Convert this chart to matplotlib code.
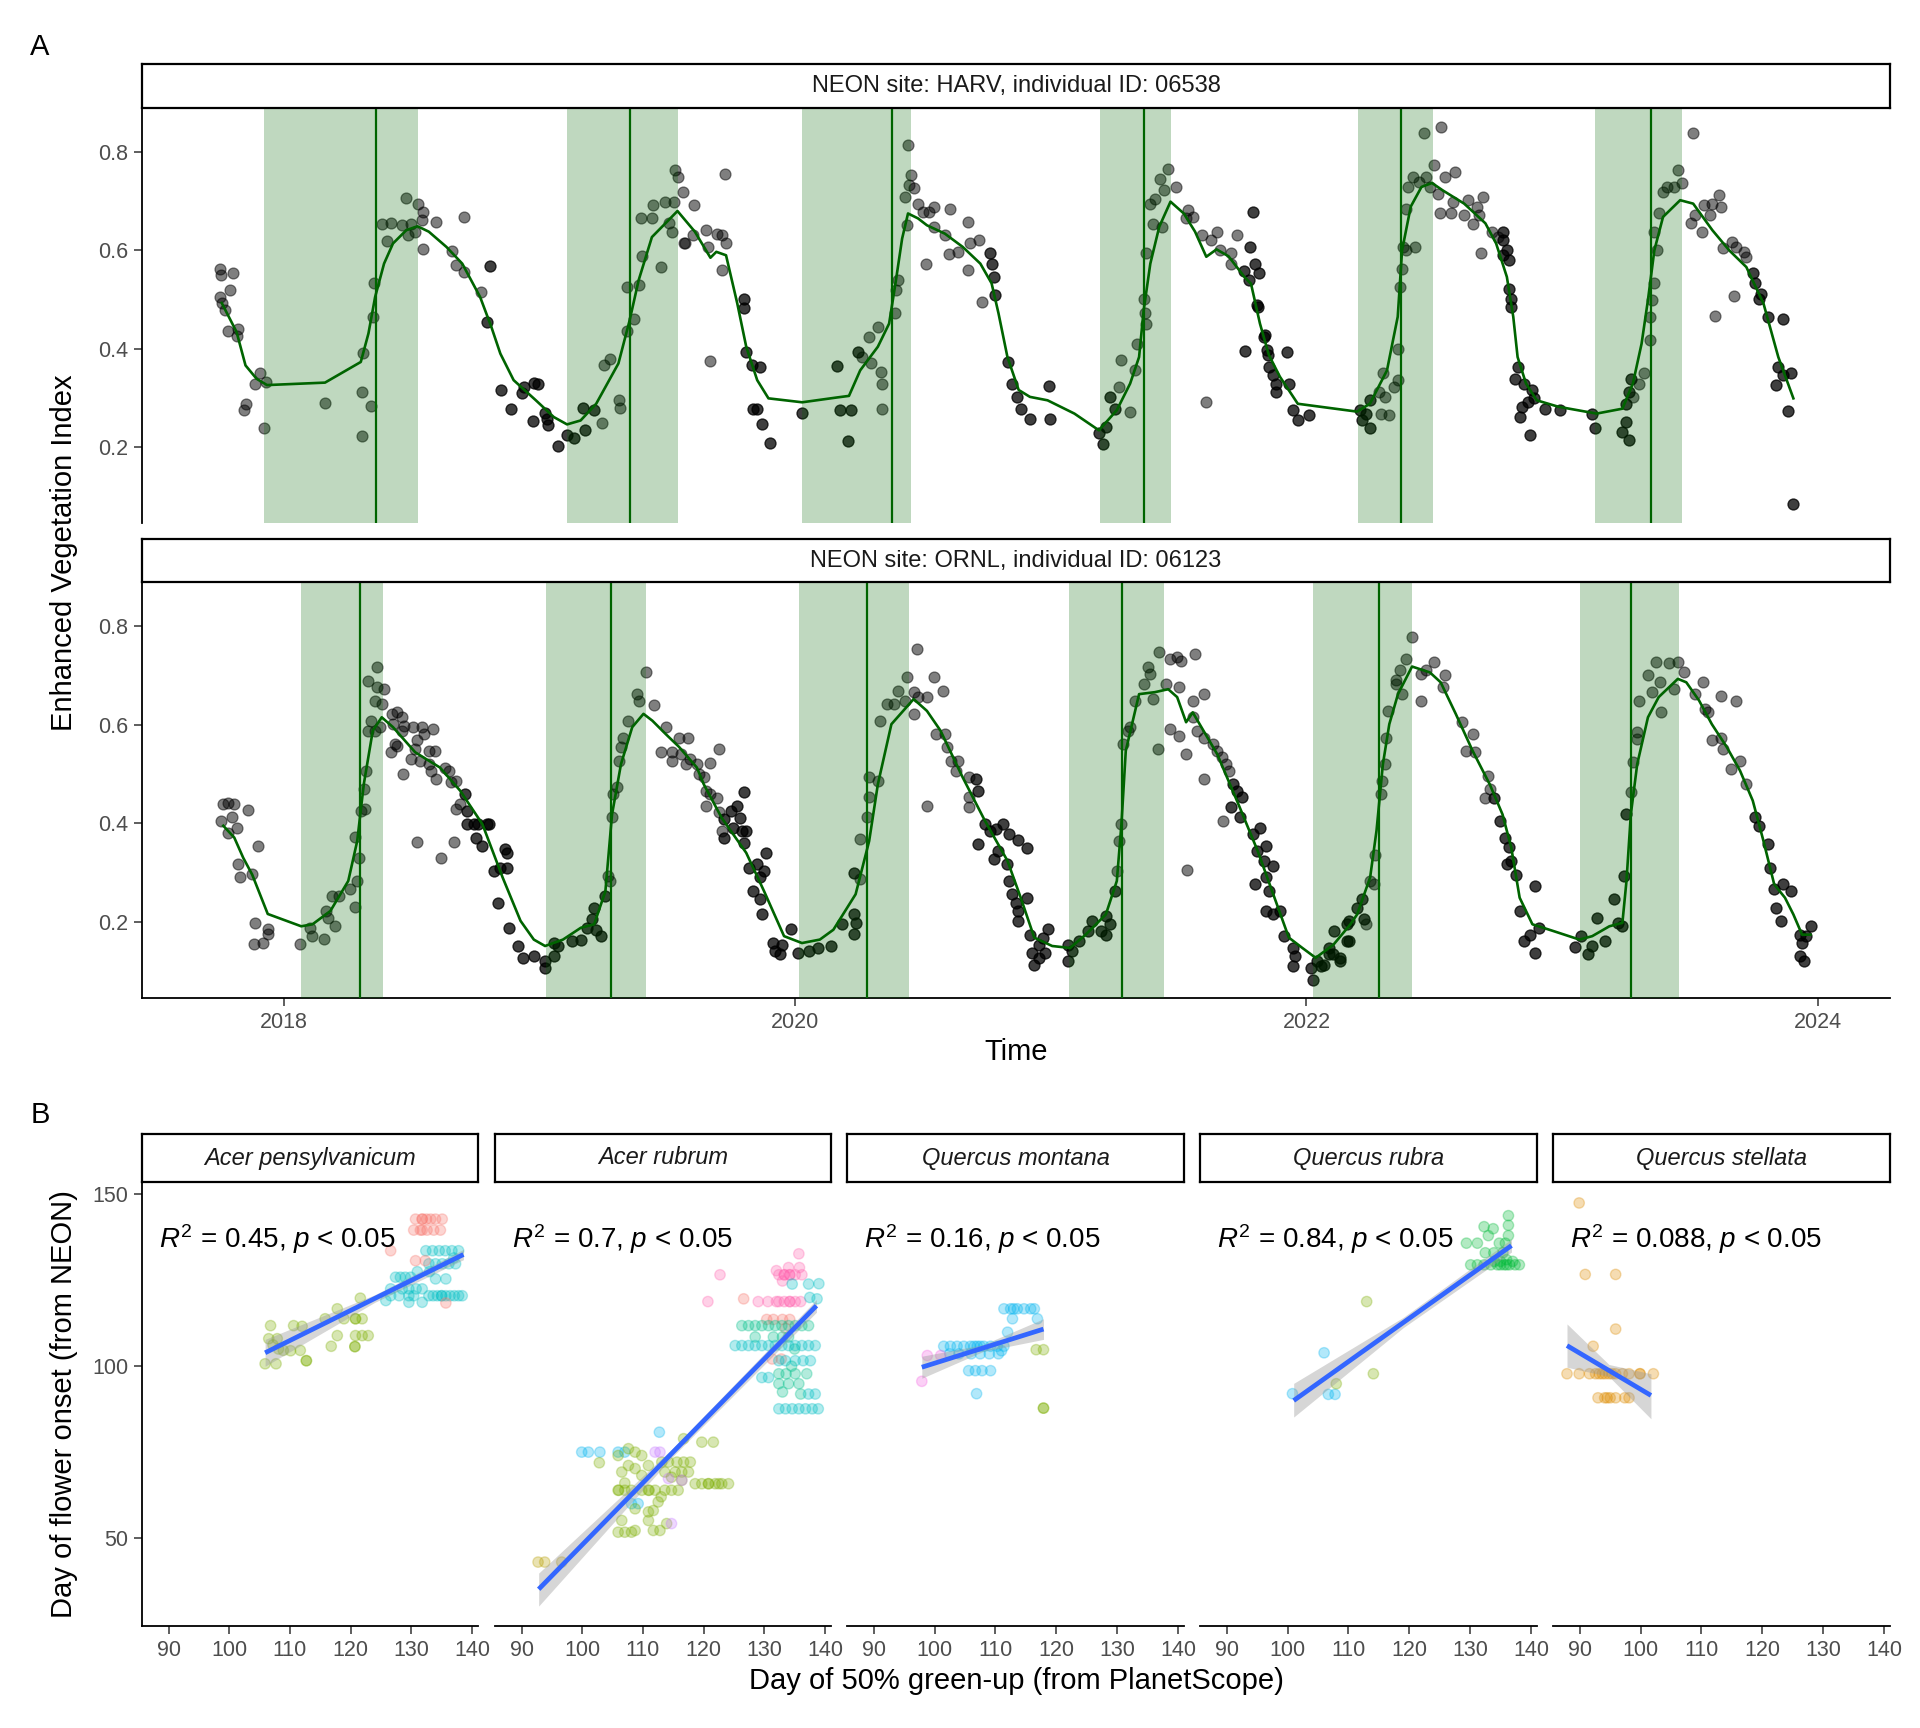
import numpy as np
import matplotlib.pyplot as plt

plt.rcParams['font.family'] = ['Liberation Sans', 'DejaVu Sans']
plt.rcParams['mathtext.fontset'] = 'custom'
plt.rcParams['mathtext.rm'] = 'Liberation Sans'
plt.rcParams['mathtext.it'] = 'Liberation Sans:italic'

W, H = 1920, 1728

# ---------------- Panel A data (decimal year, EVI) ----------------
harv_points = np.array([
    (2017.749, .563), (2017.752, .550), (2017.800, .554), (2017.789, .519), (2017.749, .506), (2017.756, .492),
    (2017.770, .478), (2017.819, .441), (2017.779, .436), (2017.817, .425), (2017.907, .350), (2017.888, .329),
    (2017.930, .333), (2017.852, .287), (2017.845, .276), (2017.922, .239), (2018.160, .290), (2018.307, .392),
    (2018.304, .311), (2018.339, .284), (2018.304, .223), (2018.351, .533), (2018.347, .465), (2018.382, .653),
    (2018.417, .656), (2018.461, .651), (2018.496, .654), (2018.403, .618), (2018.478, .707), (2018.522, .694),
    (2018.545, .677), (2018.539, .661), (2018.545, .602), (2018.484, .631), (2018.513, .638), (2018.595, .657),
    (2018.702, .667), (2018.656, .599), (2018.674, .571), (2018.705, .555), (2018.805, .569), (2018.770, .516),
    (2018.793, .455), (2018.849, .316), (2018.889, .278), (2018.929, .310), (2018.938, .322), (2018.977, .331),
    (2018.994, .329), (2018.973, .253), (2019.020, .269), (2019.029, .258), (2019.032, .244), (2019.072, .202),
    (2019.107, .224), (2019.134, .219), (2019.177, .234), (2019.169, .280), (2019.212, .275), (2019.244, .248),
    (2019.251, .366), (2019.274, .380), (2019.309, .296), (2019.314, .280), (2019.341, .526), (2019.387, .529),
    (2019.369, .461), (2019.343, .436), (2019.399, .589), (2019.474, .567), (2019.395, .665), (2019.438, .665),
    (2019.491, .699), (2019.526, .699), (2019.442, .692), (2019.528, .763), (2019.542, .749), (2019.559, .718),
    (2019.507, .655), (2019.516, .638), (2019.565, .614), (2019.600, .631), (2019.602, .692), (2019.568, .614),
    (2019.651, .641), (2019.694, .634), (2019.712, .631), (2019.729, .614), (2019.726, .755), (2019.659, .607),
    (2019.715, .560), (2019.799, .502), (2019.799, .482), (2019.808, .394), (2019.830, .367), (2019.860, .363),
    (2019.668, .375), (2019.834, .278), (2019.851, .278), (2019.869, .247), (2019.900, .209), (2020.026, .270),
    (2020.163, .364), (2020.175, .276), (2020.219, .275), (2020.207, .213), (2020.245, .394), (2020.262, .383),
    (2020.288, .424), (2020.323, .444), (2020.297, .370), (2020.337, .353), (2020.341, .329), (2020.341, .278),
    (2020.390, .472), (2020.393, .519), (2020.402, .539), (2020.437, .651), (2020.428, .709), (2020.446, .733),
    (2020.454, .753), (2020.442, .814), (2020.463, .726), (2020.480, .695), (2020.498, .678), (2020.524, .678),
    (2020.542, .688), (2020.607, .685), (2020.677, .657), (2020.510, .573), (2020.542, .648), (2020.586, .631),
    (2020.603, .592), (2020.638, .597), (2020.682, .614), (2020.717, .621), (2020.761, .594), (2020.769, .573),
    (2020.778, .546), (2020.781, .509), (2020.677, .560), (2020.730, .494), (2020.831, .373), (2020.848, .329),
    (2020.866, .302), (2020.883, .278), (2020.918, .258), (2020.993, .324), (2020.997, .258), (2021.188, .228),
    (2021.205, .207), (2021.214, .241), (2021.232, .302), (2021.249, .278), (2021.276, .377), (2021.267, .323),
    (2021.311, .271), (2021.328, .356), (2021.337, .410), (2021.363, .502), (2021.372, .594), (2021.368, .472),
    (2021.372, .451), (2021.389, .695), (2021.406, .705), (2021.428, .746), (2021.442, .722), (2021.459, .766),
    (2021.398, .654), (2021.433, .648), (2021.491, .729), (2021.538, .682), (2021.555, .668), (2021.529, .665),
    (2021.590, .631), (2021.625, .621), (2021.651, .638), (2021.660, .600), (2021.704, .594), (2021.730, .631),
    (2021.704, .573), (2021.756, .559), (2021.774, .539), (2021.791, .677), (2021.608, .292), (2021.761, .395),
    (2021.809, .485), (2021.835, .424), (2021.844, .397), (2021.853, .363), (2021.870, .346), (2021.879, .329),
    (2021.923, .394), (2021.931, .329), (2021.879, .312), (2021.949, .275), (2021.966, .255), (2022.010, .265),
    (2021.780, .607), (2021.797, .573), (2021.814, .553), (2021.805, .489), (2021.839, .428), (2021.848, .387),
    (2022.208, .275), (2022.216, .255), (2022.250, .238), (2022.233, .268), (2022.291, .268), (2022.324, .265),
    (2022.250, .295), (2022.283, .312), (2022.308, .302), (2022.341, .322), (2022.358, .336), (2022.299, .350),
    (2022.358, .400), (2022.366, .526), (2022.374, .563), (2022.379, .607), (2022.424, .607), (2022.391, .600),
    (2022.391, .685), (2022.399, .729), (2022.416, .749), (2022.466, .749), (2022.441, .739), (2022.500, .773),
    (2022.458, .838), (2022.528, .851), (2022.483, .729), (2022.516, .715), (2022.541, .749), (2022.582, .760),
    (2022.524, .675), (2022.566, .675), (2022.616, .671), (2022.575, .699), (2022.633, .702), (2022.666, .688),
    (2022.691, .709), (2022.674, .671), (2022.650, .654), (2022.683, .595), (2022.725, .638), (2022.750, .627),
    (2022.767, .638), (2022.767, .621), (2022.784, .600), (2022.767, .590), (2022.792, .580), (2022.792, .522),
    (2022.800, .502), (2022.800, .485), (2022.826, .363), (2022.817, .339), (2022.851, .329), (2022.884, .316),
    (2022.892, .299), (2022.842, .282), (2022.867, .292), (2022.834, .261), (2022.876, .224), (2022.934, .278),
    (2022.993, .275), (2023.118, .268), (2023.127, .238), (2023.236, .231), (2023.252, .251), (2023.261, .214),
    (2023.261, .312), (2023.302, .329), (2023.269, .339), (2023.319, .350), (2023.277, .302), (2023.252, .288),
    (2023.345, .417), (2023.345, .465), (2023.353, .499), (2023.361, .533), (2023.370, .600), (2023.361, .638),
    (2023.378, .675), (2023.395, .719), (2023.412, .729), (2023.437, .729), (2023.454, .763), (2023.471, .736),
    (2023.513, .839), (2023.504, .655), (2023.521, .672), (2023.546, .638), (2023.554, .692), (2023.579, .672),
    (2023.588, .695), (2023.613, .712), (2023.621, .688), (2023.630, .604), (2023.663, .617), (2023.680, .607),
    (2023.713, .597), (2023.721, .587), (2023.672, .507), (2023.600, .467), (2023.746, .553), (2023.754, .533),
    (2023.771, .502), (2023.779, .512), (2023.804, .465), (2023.863, .461), (2023.846, .363), (2023.838, .326),
    (2023.896, .350), (2023.863, .346), (2023.884, .274), (2023.904, .085),
])

harv_fit = np.array([
    (2017.756, .493), (2017.814, .434), (2017.849, .366), (2017.892, .339), (2017.933, .326), (2018.160, .331),
    (2018.300, .373), (2018.330, .431), (2018.356, .505), (2018.391, .573), (2018.426, .614), (2018.478, .641),
    (2018.522, .649), (2018.566, .638), (2018.635, .607), (2018.697, .573), (2018.767, .505), (2018.811, .444),
    (2018.846, .390), (2018.898, .336), (2018.985, .295), (2019.055, .261), (2019.107, .246), (2019.160, .254),
    (2019.221, .288), (2019.308, .370), (2019.352, .458), (2019.387, .539), (2019.439, .627), (2019.492, .655),
    (2019.539, .680), (2019.607, .638), (2019.668, .585), (2019.691, .597), (2019.729, .590), (2019.773, .492),
    (2019.808, .404), (2019.851, .336), (2019.895, .299), (2020.027, .291), (2020.166, .301), (2020.210, .304),
    (2020.254, .356), (2020.323, .404), (2020.367, .451), (2020.392, .533), (2020.418, .624), (2020.441, .675),
    (2020.480, .665), (2020.515, .651), (2020.585, .634), (2020.655, .607), (2020.724, .573), (2020.768, .533),
    (2020.795, .472), (2020.830, .383), (2020.874, .316), (2020.918, .302), (2020.987, .295), (2021.092, .268),
    (2021.188, .234), (2021.258, .275), (2021.310, .329), (2021.345, .383), (2021.363, .478), (2021.389, .573),
    (2021.424, .648), (2021.468, .699), (2021.520, .675), (2021.564, .638), (2021.608, .587), (2021.648, .602),
    (2021.695, .588), (2021.757, .546), (2021.783, .532), (2021.818, .451), (2021.853, .387), (2021.896, .343),
    (2021.966, .288), (2022.198, .272), (2022.248, .288), (2022.315, .356), (2022.357, .465), (2022.374, .600),
    (2022.408, .689), (2022.450, .729), (2022.491, .737), (2022.533, .722), (2022.617, .695), (2022.700, .655),
    (2022.742, .614), (2022.784, .546), (2022.809, .465), (2022.826, .383), (2022.859, .329), (2022.901, .295),
    (2022.985, .282), (2023.135, .268), (2023.236, .278), (2023.277, .329), (2023.311, .410), (2023.336, .499),
    (2023.361, .600), (2023.395, .668), (2023.462, .702), (2023.513, .695), (2023.588, .641), (2023.654, .600),
    (2023.721, .566), (2023.788, .492), (2023.846, .383), (2023.905, .299),
])

harv_season_start = [2017.921, 2019.107, 2020.026, 2021.193, 2022.203, 2023.130]
harv_season_end = [2018.522, 2019.540, 2020.454, 2021.468, 2022.496, 2023.470]
harv_onset = [2018.361, 2019.352, 2020.379, 2021.363, 2022.369, 2023.347]
# periods where two yearly windows overlap (points appear twice)
harv_overlap = [(2018.78, 2019.22), (2019.76, 2020.25), (2020.76, 2021.25),
                (2021.74, 2022.25), (2022.76, 2023.27), (2023.74, 2023.95)]

ornl_points = np.array([
    (2017.762, .439), (2017.779, .442), (2017.805, .439), (2017.796, .412), (2017.753, .405), (2017.779, .381),
    (2017.814, .391), (2017.858, .427), (2017.898, .353), (2017.819, .317), (2017.828, .290), (2017.875, .297),
    (2017.887, .198), (2017.884, .155), (2017.919, .157), (2017.936, .185), (2017.936, .175), (2018.064, .156),
    (2018.102, .188), (2018.155, .166), (2018.111, .171), (2018.163, .222), (2018.172, .208), (2018.189, .252),
    (2018.198, .191), (2018.216, .252), (2018.256, .266), (2018.277, .230), (2018.277, .372), (2018.294, .329),
    (2018.286, .283), (2018.300, .425), (2018.318, .429), (2018.321, .507), (2018.312, .470), (2018.330, .588),
    (2018.339, .608), (2018.356, .588), (2018.374, .595), (2018.330, .689), (2018.362, .718), (2018.365, .676),
    (2018.391, .673), (2018.356, .649), (2018.382, .642), (2018.422, .622), (2018.426, .601), (2018.443, .625),
    (2018.461, .615), (2018.470, .598), (2018.461, .588), (2018.435, .561), (2018.417, .544), (2018.443, .557),
    (2018.465, .500), (2018.504, .595), (2018.539, .595), (2018.583, .591), (2018.521, .568), (2018.547, .581),
    (2018.565, .547), (2018.591, .547), (2018.513, .551), (2018.497, .530), (2018.531, .527), (2018.566, .520),
    (2018.575, .506), (2018.593, .490), (2018.628, .513), (2018.645, .506), (2018.654, .483), (2018.671, .486),
    (2018.518, .363), (2018.613, .330), (2018.665, .361), (2018.706, .459), (2018.689, .439), (2018.715, .425),
    (2018.671, .428), (2018.715, .398), (2018.741, .398), (2018.759, .398), (2018.794, .398), (2018.802, .398),
    (2018.750, .371), (2018.776, .354), (2018.820, .303), (2018.846, .310), (2018.872, .310), (2018.864, .347),
    (2018.872, .340), (2018.837, .239), (2018.881, .188), (2018.916, .151), (2018.934, .127), (2018.977, .130),
    (2019.021, .120), (2019.021, .106), (2019.056, .130), (2019.056, .157), (2019.073, .151), (2019.126, .161),
    (2019.161, .164), (2019.213, .228), (2019.205, .205), (2019.187, .188), (2019.240, .171), (2019.222, .184),
    (2019.257, .252), (2019.274, .283), (2019.269, .293), (2019.283, .412), (2019.287, .459), (2019.301, .473),
    (2019.309, .527), (2019.318, .554), (2019.327, .574), (2019.344, .608), (2019.379, .662), (2019.388, .649),
    (2019.414, .706), (2019.449, .639), (2019.493, .595), (2019.545, .574), (2019.580, .574), (2019.476, .544),
    (2019.519, .544), (2019.519, .527), (2019.554, .540), (2019.571, .520), (2019.589, .530), (2019.616, .520),
    (2019.668, .523), (2019.625, .500), (2019.642, .493), (2019.703, .550), (2019.651, .466), (2019.668, .459),
    (2019.694, .452), (2019.651, .435), (2019.703, .422), (2019.720, .408), (2019.712, .384), (2019.720, .371),
    (2019.747, .425), (2019.773, .435), (2019.782, .411), (2019.799, .463), (2019.755, .391), (2019.790, .384),
    (2019.799, .360), (2019.808, .384), (2019.887, .340), (2019.817, .310), (2019.852, .317), (2019.878, .303),
    (2019.861, .290), (2019.834, .262), (2019.861, .246), (2019.869, .215), (2019.913, .158), (2019.948, .154),
    (2019.922, .141), (2019.939, .134), (2019.983, .185), (2020.009, .137), (2020.053, .141), (2020.088, .147),
    (2020.140, .151), (2020.184, .195), (2020.228, .215), (2020.236, .198), (2020.228, .175), (2020.228, .300),
    (2020.254, .286), (2020.254, .368), (2020.280, .412), (2020.289, .453), (2020.323, .486), (2020.289, .493),
    (2020.332, .608), (2020.358, .642), (2020.385, .642), (2020.402, .669), (2020.428, .649), (2020.437, .696),
    (2020.463, .666), (2020.477, .754), (2020.480, .656), (2020.463, .622), (2020.515, .656), (2020.542, .696),
    (2020.577, .669), (2020.515, .435), (2020.549, .581), (2020.584, .581), (2020.593, .554), (2020.610, .527),
    (2020.637, .527), (2020.628, .507), (2020.681, .493), (2020.707, .490), (2020.681, .453), (2020.716, .466),
    (2020.681, .432), (2020.716, .357), (2020.742, .398), (2020.760, .384), (2020.786, .388), (2020.812, .398),
    (2020.838, .378), (2020.873, .367), (2020.908, .350), (2020.778, .327), (2020.795, .344), (2020.830, .317),
    (2020.838, .283), (2020.847, .256), (2020.865, .239), (2020.873, .222), (2020.908, .249), (2020.873, .202),
    (2020.917, .174), (2020.926, .137), (2020.935, .113), (2020.952, .154), (2020.970, .168), (2020.987, .185),
    (2020.978, .137), (2020.952, .127), (2021.066, .154), (2021.083, .141), (2021.066, .120), (2021.109, .161),
    (2021.144, .181), (2021.162, .202), (2021.197, .181), (2021.214, .212), (2021.232, .195), (2021.214, .174),
    (2021.249, .263), (2021.258, .303), (2021.267, .364), (2021.275, .398), (2021.284, .561), (2021.302, .588),
    (2021.310, .595), (2021.328, .649), (2021.363, .683), (2021.380, .717), (2021.389, .703), (2021.398, .652),
    (2021.424, .747), (2021.420, .550), (2021.450, .683), (2021.467, .734), (2021.494, .737), (2021.511, .730),
    (2021.503, .676), (2021.564, .744), (2021.555, .649), (2021.599, .662), (2021.467, .591), (2021.503, .578),
    (2021.529, .540), (2021.599, .489), (2021.555, .615), (2021.573, .588), (2021.599, .574), (2021.634, .561),
    (2021.651, .547), (2021.669, .534), (2021.686, .520), (2021.695, .507), (2021.712, .480), (2021.730, .466),
    (2021.747, .453), (2021.704, .432), (2021.739, .412), (2021.674, .405), (2021.791, .378), (2021.817, .391),
    (2021.843, .354), (2021.808, .344), (2021.834, .324), (2021.869, .313), (2021.843, .290), (2021.799, .276),
    (2021.852, .262), (2021.843, .222), (2021.869, .215), (2021.895, .222), (2021.912, .171), (2021.947, .147),
    (2021.947, .110), (2021.532, .306), (2022.017, .107), (2022.026, .083), (2022.043, .120), (2022.069, .113),
    (2022.104, .134), (2022.130, .120), (2022.087, .147), (2022.157, .161), (2022.166, .202), (2021.956, .130),
    (2022.057, .110), (2022.090, .134), (2022.107, .181), (2022.132, .127), (2022.157, .195), (2022.165, .161),
    (2022.199, .229), (2022.216, .246), (2022.224, .205), (2022.232, .195), (2022.249, .283), (2022.266, .276),
    (2022.269, .336), (2022.291, .459), (2022.296, .486), (2022.307, .520), (2022.312, .574), (2022.319, .628),
    (2022.349, .683), (2022.366, .710), (2022.391, .734), (2022.413, .778), (2022.349, .690), (2022.374, .663),
    (2022.449, .703), (2022.466, .710), (2022.500, .727), (2022.542, .700), (2022.449, .649), (2022.533, .676),
    (2022.608, .605), (2022.650, .581), (2022.625, .547), (2022.658, .544), (2022.709, .496), (2022.717, .469),
    (2022.700, .452), (2022.734, .452), (2022.759, .405), (2022.776, .371), (2022.792, .351), (2022.801, .324),
    (2022.818, .296), (2022.784, .317), (2022.834, .222), (2022.851, .161), (2022.876, .174), (2022.893, .137),
    (2022.893, .273), (2022.910, .188), (2023.051, .148), (2023.101, .134), (2023.118, .151), (2023.076, .171),
    (2023.135, .208), (2023.168, .161), (2023.202, .246), (2023.219, .198), (2023.236, .191), (2023.244, .293),
    (2023.249, .418), (2023.269, .463), (2023.277, .524), (2023.294, .571), (2023.294, .585), (2023.302, .649),
    (2023.336, .700), (2023.353, .666), (2023.383, .686), (2023.386, .625), (2023.369, .727), (2023.419, .725),
    (2023.453, .727), (2023.478, .707), (2023.436, .673), (2023.519, .663), (2023.553, .686), (2023.561, .632),
    (2023.570, .625), (2023.620, .659), (2023.679, .649), (2023.587, .568), (2023.620, .574), (2023.628, .551),
    (2023.662, .510), (2023.696, .527), (2023.721, .480), (2023.754, .412), (2023.771, .395), (2023.805, .358),
    (2023.813, .310), (2023.830, .266), (2023.838, .229), (2023.855, .202), (2023.863, .276), (2023.897, .262),
    (2023.930, .174), (2023.939, .157), (2023.955, .171), (2023.975, .191), (2023.930, .130), (2023.947, .120),
])

ornl_fit = np.array([
    (2017.762, .395), (2017.805, .371), (2017.840, .330), (2017.875, .296), (2017.936, .216), (2018.067, .191),
    (2018.111, .195), (2018.181, .222), (2018.251, .283), (2018.286, .364), (2018.312, .480), (2018.347, .588),
    (2018.382, .615), (2018.426, .595), (2018.513, .544), (2018.566, .527), (2018.610, .513), (2018.689, .466),
    (2018.776, .398), (2018.855, .290), (2018.925, .202), (2018.977, .164), (2019.021, .151), (2019.091, .164),
    (2019.161, .188), (2019.213, .195), (2019.257, .262), (2019.283, .418), (2019.318, .520), (2019.362, .595),
    (2019.406, .622), (2019.441, .608), (2019.493, .581), (2019.545, .555), (2019.615, .513), (2019.642, .479),
    (2019.712, .411), (2019.808, .340), (2019.878, .262), (2019.956, .171), (2020.026, .157), (2020.096, .164),
    (2020.149, .184), (2020.236, .256), (2020.289, .364), (2020.323, .479), (2020.376, .601), (2020.463, .652),
    (2020.515, .628), (2020.568, .588), (2020.655, .493), (2020.742, .405), (2020.830, .324), (2020.882, .249),
    (2020.935, .168), (2021.005, .151), (2021.075, .147), (2021.136, .174), (2021.215, .215), (2021.258, .283),
    (2021.276, .398), (2021.293, .547), (2021.345, .662), (2021.407, .666), (2021.459, .672), (2021.494, .656),
    (2021.529, .605), (2021.555, .625), (2021.651, .540), (2021.739, .432), (2021.809, .344), (2021.879, .243),
    (2021.931, .168), (2021.984, .147), (2022.036, .127), (2022.106, .154), (2022.172, .195), (2022.198, .215),
    (2022.249, .290), (2022.274, .385), (2022.299, .520), (2022.324, .601), (2022.358, .662), (2022.413, .718),
    (2022.483, .706), (2022.525, .686), (2022.584, .622), (2022.650, .547), (2022.717, .479), (2022.767, .418),
    (2022.801, .351), (2022.834, .249), (2022.884, .195), (2022.968, .181), (2023.068, .164), (2023.118, .171),
    (2023.185, .191), (2023.236, .198), (2023.252, .283), (2023.269, .418), (2023.294, .520), (2023.336, .615),
    (2023.378, .656), (2023.453, .693), (2023.486, .686), (2023.536, .649), (2023.586, .601), (2023.645, .554),
    (2023.696, .507), (2023.746, .446), (2023.788, .364), (2023.830, .276), (2023.872, .249), (2023.905, .215),
    (2023.939, .174), (2023.972, .174),
])

ornl_season_start = [2018.066, 2019.025, 2020.014, 2021.069, 2022.026, 2023.071]
ornl_season_end = [2018.385, 2019.414, 2020.446, 2021.442, 2022.412, 2023.456]
ornl_onset = [2018.296, 2019.277, 2020.280, 2021.279, 2022.282, 2023.269]
ornl_overlap = [(2018.70, 2019.26), (2019.72, 2020.25), (2020.70, 2021.25),
                (2021.70, 2022.23), (2022.72, 2023.25), (2023.74, 2023.98)]

site_labels = ["NEON site: HARV, individual ID: 06538", "NEON site: ORNL, individual ID: 06123"]
year_ticks = [2018, 2020, 2022, 2024]
evi_ticks = [0.2, 0.4, 0.6, 0.8]

# ---------------- Panel B data ----------------
species = ["Acer pensylvanicum", "Acer rubrum", "Quercus montana", "Quercus rubra", "Quercus stellata"]
r2_labels = ["0.45", "0.7", "0.16", "0.84", "0.088"]
# ggplot hue palette for the 12 NEON sites
site_colors = ['#F8766D', '#DE8C00', '#B79F00', '#7CAE00', '#00BA38', '#00C08B',
               '#00BFC4', '#00B4F0', '#619CFF', '#C77CFF', '#F564E3', '#FF64B0']

# (green-up DOY, flower onset DOY, site index)
acpe_pts = [
    (106.8, 111.8, 3), (105.9, 100.7, 3), (107.7, 100.7, 3), (106.5, 108.0, 3), (107.9, 108.0, 3), (108.1, 105.0, 3),
    (108.9, 104.6, 3), (110.1, 104.5, 3), (110.6, 111.8, 3), (112.0, 111.6, 3), (111.7, 104.6, 3), (112.7, 101.6, 3),
    (112.7, 101.6, 3), (115.8, 113.8, 3), (116.8, 105.8, 3), (117.8, 108.9, 3), (117.8, 116.7, 3), (118.9, 113.8, 3),
    (120.8, 113.8, 3), (120.8, 113.8, 3), (120.8, 108.9, 3), (121.9, 108.9, 3), (122.9, 108.9, 3), (120.7, 105.7, 3),
    (120.7, 105.7, 3), (121.6, 119.8, 3), (121.9, 113.8, 3), (107.2, 106.2, 3),
    (125.8, 119.1, 6), (126.6, 122.5, 6), (127.4, 125.9, 6), (128.2, 125.9, 6), (129.0, 125.9, 6), (129.9, 125.9, 6),
    (126.6, 120.5, 6), (128.0, 120.5, 6), (129.6, 120.5, 6), (130.4, 120.5, 6), (128.5, 122.5, 6), (129.6, 122.5, 6),
    (130.8, 122.5, 6), (131.8, 122.5, 6), (129.6, 118.6, 6), (131.8, 118.6, 6), (132.9, 120.5, 6), (133.6, 120.5, 6),
    (134.3, 120.5, 6), (135.0, 120.5, 6), (135.7, 120.5, 6), (136.4, 120.5, 6), (137.1, 120.5, 6), (137.8, 120.5, 6),
    (138.4, 120.5, 6), (132.4, 133.6, 6), (133.5, 133.6, 6), (134.6, 133.6, 6), (135.6, 133.6, 6), (136.7, 133.6, 6),
    (137.8, 133.6, 6), (132.9, 129.8, 6), (134.0, 129.8, 6), (135.1, 129.8, 6), (136.2, 129.8, 6), (137.3, 129.8, 6),
    (134.0, 125.4, 6), (135.7, 125.4, 6), (131.0, 127.5, 6), (133.0, 127.5, 6), (137.0, 131.5, 6), (135.0, 120.5, 6),
    (126.6, 133.6, 0), (130.7, 142.8, 0), (131.8, 142.8, 0), (131.8, 142.8, 0), (132.5, 142.8, 0), (133.2, 142.8, 0),
    (134.0, 142.8, 0), (135.1, 142.8, 0), (130.4, 139.6, 0), (131.5, 139.6, 0), (131.8, 139.6, 0), (132.6, 139.6, 0),
    (133.7, 139.6, 0), (134.8, 139.6, 0), (130.7, 130.7, 0), (132.3, 130.7, 0), (135.7, 118.4, 0),
]
acru_pts = [
    (92.7, 43.0, 2), (93.8, 43.0, 2), (96.6, 43.0, 2),
    (99.9, 75.0, 7), (101.0, 75.0, 7), (102.9, 75.0, 7), (105.9, 75.0, 7), (107.0, 75.0, 7), (112.7, 80.8, 7),
    (108.1, 60.0, 7), (109.2, 60.0, 7),
    (102.8, 71.9, 3), (105.9, 74.0, 3), (107.6, 76.0, 3), (108.7, 75.0, 3), (109.8, 74.0, 3), (106.5, 69.2, 3),
    (107.6, 71.1, 3), (108.7, 70.2, 3), (109.8, 68.2, 3), (110.9, 71.1, 3), (105.9, 63.9, 3), (107.0, 63.9, 3),
    (108.1, 63.9, 3), (109.8, 63.9, 3), (110.9, 63.9, 3), (112.0, 63.9, 3), (113.6, 63.9, 3), (114.7, 63.9, 3),
    (115.8, 63.9, 3), (113.1, 72.1, 3), (114.2, 72.1, 3), (115.6, 72.1, 3), (116.7, 72.1, 3), (117.8, 72.1, 3),
    (113.6, 69.2, 3), (115.3, 69.2, 3), (116.4, 69.2, 3), (117.5, 69.2, 3), (118.6, 65.8, 3), (119.7, 65.8, 3),
    (120.8, 65.8, 3), (121.9, 65.8, 3), (123.0, 65.8, 3), (124.1, 65.8, 3), (120.8, 65.8, 3), (122.5, 65.8, 3),
    (114.7, 67.7, 3), (116.4, 66.8, 3), (119.7, 77.9, 3), (121.6, 77.9, 3), (116.7, 78.9, 3), (108.7, 58.5, 3),
    (110.9, 57.6, 3), (111.7, 58.0, 3), (106.5, 55.1, 3), (108.7, 52.2, 3), (110.9, 55.1, 3), (112.8, 52.2, 3),
    (113.9, 54.2, 3), (105.9, 51.7, 3), (107.0, 51.7, 3), (108.1, 51.7, 3), (111.7, 52.2, 3), (107.0, 66.0, 3),
    (112.5, 60.5, 3), (113.0, 62.0, 3), (106.0, 63.9, 3), (111.0, 63.9, 3),
    (112.0, 75.0, 9), (112.8, 75.0, 9), (116.4, 66.8, 9), (114.2, 67.3, 9), (114.7, 54.2, 9),
    (135.7, 132.7, 11), (122.7, 126.6, 11), (120.7, 118.8, 11), (132.4, 126.6, 11), (133.3, 126.6, 11),
    (134.2, 126.6, 11), (135.1, 126.6, 11), (136.2, 126.6, 11), (133.3, 126.6, 11), (134.2, 126.6, 11),
    (132.0, 127.8, 11), (134.0, 128.7, 11), (135.8, 128.7, 11), (129.0, 118.8, 11), (130.6, 118.8, 11),
    (132.0, 118.8, 11), (132.4, 118.8, 11), (133.3, 118.8, 11), (134.2, 118.8, 11), (135.1, 118.8, 11),
    (136.0, 118.8, 11), (134.2, 118.8, 11), (133.0, 124.8, 11),
    (126.6, 119.6, 0), (130.4, 113.6, 0), (131.5, 113.6, 0), (133.0, 113.6, 0), (134.2, 113.6, 0), (131.3, 102.1, 0),
    (132.8, 102.1, 0), (133.5, 111.0, 0),
    (126.3, 111.8, 5), (127.4, 111.8, 5), (128.5, 111.8, 5), (129.6, 111.8, 5), (130.7, 111.8, 5), (131.8, 111.8, 5),
    (132.9, 111.8, 5), (134.0, 111.8, 5), (135.1, 111.8, 5), (136.2, 111.8, 5), (137.3, 111.8, 5), (128.5, 108.5, 5),
    (131.5, 108.5, 5), (133.0, 108.5, 5), (134.0, 108.5, 5), (132.4, 97.8, 5), (133.6, 97.8, 5), (135.1, 97.8, 5),
    (137.0, 97.8, 5), (132.4, 94.9, 5), (134.0, 94.9, 5), (135.7, 94.9, 5), (136.0, 91.9, 5), (133.0, 92.5, 5),
    (134.5, 100.0, 5), (135.0, 105.0, 5),
    (125.2, 106.0, 6), (126.3, 106.0, 6), (127.4, 106.0, 6), (128.5, 106.0, 6), (129.6, 106.0, 6), (130.7, 106.0, 6),
    (131.8, 106.0, 6), (132.9, 106.0, 6), (134.0, 106.0, 6), (135.1, 106.0, 6), (136.2, 106.0, 6), (137.3, 106.0, 6),
    (138.4, 106.0, 6), (132.4, 101.6, 6), (133.5, 101.6, 6), (135.1, 101.6, 6), (136.4, 101.6, 6), (137.6, 101.6, 6),
    (129.6, 96.7, 6), (130.7, 96.7, 6), (137.3, 91.9, 6), (138.4, 91.9, 6), (132.4, 87.6, 6), (133.5, 87.6, 6),
    (134.6, 87.6, 6), (135.7, 87.6, 6), (136.8, 87.6, 6), (137.9, 87.6, 6), (138.9, 87.6, 6), (137.3, 123.9, 6),
    (134.6, 123.9, 6), (138.7, 119.6, 6), (137.5, 120.0, 6), (139.0, 124.0, 6),
]
qumo_pts = [
    (101.5, 105.8, 7), (102.6, 105.8, 7), (103.7, 105.8, 7), (104.8, 105.8, 7), (105.9, 105.8, 7), (107.0, 105.8, 7),
    (108.1, 105.8, 7), (109.2, 105.8, 7), (110.3, 105.8, 7), (111.4, 105.8, 7), (106.5, 105.8, 7), (107.5, 105.8, 7),
    (102.5, 103.6, 7), (104.0, 103.6, 7), (106.0, 103.6, 7), (107.5, 103.6, 7), (109.0, 103.6, 7), (110.5, 103.6, 7),
    (111.4, 116.7, 7), (112.5, 116.7, 7), (113.6, 116.7, 7), (114.7, 116.7, 7), (115.8, 116.7, 7), (116.4, 116.7, 7),
    (113.0, 116.7, 7), (112.8, 113.8, 7), (116.9, 113.8, 7), (112.0, 109.9, 7), (105.6, 98.7, 7), (106.7, 98.7, 7),
    (107.8, 98.7, 7), (109.2, 98.7, 7), (106.9, 92.0, 7), (111.0, 104.5, 7),
    (98.8, 103.1, 10), (97.9, 95.6, 10), (101.0, 103.1, 10),
    (116.7, 104.8, 3), (117.9, 104.8, 3), (117.9, 87.8, 3), (117.9, 87.8, 3),
]
quru_pts = [
    (100.8, 92.0, 7), (106.0, 103.9, 7), (106.7, 91.8, 7), (107.8, 91.8, 7),
    (113.0, 118.8, 3), (114.1, 97.8, 3), (108.0, 94.9, 3),
    (129.4, 135.8, 4), (131.2, 135.8, 4), (132.3, 140.6, 4), (133.8, 140.0, 4), (136.3, 143.8, 4), (136.3, 141.0, 4),
    (136.3, 138.0, 4), (134.8, 135.8, 4), (135.8, 135.8, 4), (132.5, 133.0, 4), (133.9, 133.0, 4), (135.4, 133.0, 4),
    (130.1, 129.5, 4), (131.2, 129.5, 4), (132.3, 129.5, 4), (133.4, 129.5, 4), (134.5, 129.5, 4), (135.6, 129.5, 4),
    (136.5, 129.5, 4), (137.4, 129.5, 4), (138.1, 129.5, 4), (134.0, 130.5, 4), (135.0, 130.5, 4), (136.0, 131.0, 4),
    (137.0, 130.5, 4), (133.0, 138.0, 4), (135.0, 129.5, 4), (136.0, 129.5, 4),
]
qust_pts = [
    (89.9, 147.5, 1), (90.9, 126.7, 1), (95.9, 126.7, 1), (95.9, 110.8, 1), (92.2, 105.8, 1),
    (87.9, 97.8, 1), (89.9, 97.8, 1), (91.6, 97.8, 1), (92.6, 97.8, 1), (93.7, 97.8, 1), (94.8, 97.8, 1),
    (95.9, 97.8, 1), (97.0, 97.8, 1), (98.1, 97.8, 1), (99.9, 97.8, 1), (102.1, 97.8, 1), (93.2, 97.8, 1),
    (94.2, 97.8, 1), (95.3, 97.8, 1), (99.9, 97.8, 1),
    (93.0, 90.8, 1), (94.1, 90.8, 1), (95.0, 90.8, 1), (95.9, 90.8, 1), (97.4, 90.8, 1), (98.1, 90.8, 1), (94.5, 90.8, 1),
]
facet_points = [acpe_pts, acru_pts, qumo_pts, quru_pts, qust_pts]

# fitted lm line and its confidence band, read at start / middle / end
fit_x = [[105.9, 124.0, 138.6], [92.8, 115.0, 138.6], [97.9, 108.0, 117.9], [101.0, 119.0, 136.8], [87.9, 94.8, 101.7]]
fit_y = [[103.9, 119.7, 132.5], [35.1, 75.1, 117.6], [99.7, 105.3, 110.8], [90.0, 112.7, 135.1], [106.0, 98.8, 91.5]]
band_lo = [[100.0, 118.6, 131.0], [30.2, 73.9, 115.7], [96.5, 104.3, 107.8], [85.2, 111.2, 133.2], [99.7, 97.0, 84.7]]
band_hi = [[107.8, 120.8, 134.0], [39.8, 76.3, 119.4], [102.9, 106.3, 113.8], [95.0, 114.2, 137.0], [112.3, 100.5, 97.8]]
doy_ticks = [90, 100, 110, 120, 130, 140]
onset_ticks = [50, 100, 150]

# ---------------- drawing ----------------
TICK_SIZE = 15.5
TITLE_SIZE = 21
STRIP_SIZE = 17


def box(l, t, r, b):
    return [l / W, 1 - b / H, (r - l) / W, (b - t) / H]


def style_axes(ax, left=True, bottom=True):
    for side in ['top', 'right']:
        ax.spines[side].set_visible(False)
    ax.spines['left'].set_visible(left)
    ax.spines['bottom'].set_visible(bottom)
    for side in ['left', 'bottom']:
        ax.spines[side].set_linewidth(1.3)
        ax.spines[side].set_color('black')
    ax.tick_params(axis='both', direction='out', length=6, width=1.1, color='#333333',
                   labelcolor='#4D4D4D', labelsize=TICK_SIZE, pad=4)
    if not left:
        ax.tick_params(axis='y', left=False, labelleft=False)
    if not bottom:
        ax.tick_params(axis='x', bottom=False, labelbottom=False)


def strip(rect, label, italic=False):
    sax = fig.add_axes(rect)
    sax.set_xticks([])
    sax.set_yticks([])
    for sp in sax.spines.values():
        sp.set_linewidth(1.6)
        sp.set_color('black')
    sax.text(0.5, 0.5, label, ha='center', va='center', fontsize=STRIP_SIZE,
             color='#1A1A1A', style='italic' if italic else 'normal', transform=sax.transAxes)


def in_windows(t, windows):
    m = np.zeros(len(t), dtype=bool)
    for a, b in windows:
        m |= (t >= a) & (t <= b)
    return m


fig = plt.figure(figsize=(W / 100, H / 100), dpi=100)

panelA = [
    (harv_points, harv_fit, harv_season_start, harv_season_end, harv_onset, harv_overlap, (108, 523), (64, 108)),
    (ornl_points, ornl_fit, ornl_season_start, ornl_season_end, ornl_onset, ornl_overlap, (582, 998), (539, 582)),
]
for i, (pts, fit, s0, s1, onset, overlap, (top, bot), (st, sb)) in enumerate(panelA):
    ax = fig.add_axes(box(142, top, 1890, bot))
    t, v = pts[:, 0], pts[:, 1]
    ax.scatter(t, v, s=62, facecolor=(0, 0, 0, 0.5), edgecolor=(0, 0, 0, 0.5), linewidths=0.9, zorder=2)
    dup = in_windows(t, overlap)
    ax.scatter(t[dup], v[dup], s=62, facecolor=(0, 0, 0, 0.5), edgecolor=(0, 0, 0, 0.5),
               linewidths=0.9, zorder=2)
    for a, b in zip(s0, s1):
        ax.axvspan(a, b, color='darkgreen', alpha=0.25, lw=0, zorder=3)
    for o in onset:
        ax.axvline(o, color='darkgreen', lw=1.6, zorder=4)
    ax.plot(fit[:, 0], fit[:, 1], color='darkgreen', lw=1.9, zorder=5)
    ax.set_xlim(2017.444, 2024.283)
    ax.set_ylim(0.0455, 0.8895)
    ax.set_yticks(evi_ticks)
    ax.set_yticklabels([f"{y:.1f}" for y in evi_ticks])
    ax.set_xticks(year_ticks)
    ax.set_xticklabels([str(y) for y in year_ticks])
    style_axes(ax, left=True, bottom=(i == 1))
    strip(box(142, st, 1890, sb), site_labels[i])

facet_lr = [(142, 478), (495, 831), (847, 1184), (1200, 1537), (1553, 1890)]
for k, (l, r) in enumerate(facet_lr):
    ax = fig.add_axes(box(l, 1182, r, 1626))
    pts = facet_points[k]
    x = [p[0] for p in pts]
    y = [p[1] for p in pts]
    cols = [site_colors[p[2]] for p in pts]
    ax.scatter(x, y, s=56, c=cols, alpha=0.3, edgecolors=cols, linewidths=1.0, zorder=2)
    ax.fill_between(fit_x[k], band_lo[k], band_hi[k], color='#999999', alpha=0.4, lw=0, zorder=3)
    ax.plot([fit_x[k][0], fit_x[k][-1]], [fit_y[k][0], fit_y[k][-1]], color='#3366FF', lw=3.4,
            solid_capstyle='butt', zorder=4)
    ax.text(0.05, 0.872, r'$R^2$ = ' + r2_labels[k] + r', $p$ < 0.05', transform=ax.transAxes,
            ha='left', va='center', fontsize=20, color='black')
    ax.set_xlim(85.6, 141.0)
    ax.set_ylim(24.4, 153.6)
    ax.set_xticks(doy_ticks)
    ax.set_yticks(onset_ticks)
    style_axes(ax, left=(k == 0), bottom=True)
    strip(box(l, 1134, r, 1182), species[k], italic=True)

fig.text(64 / W, 1 - 553 / H, "Enhanced Vegetation Index", rotation=90, ha='center', va='center',
         fontsize=TITLE_SIZE)
fig.text(1016 / W, 1 - 1052 / H, "Time", ha='center', va='center', fontsize=TITLE_SIZE)
fig.text(64 / W, 1 - 1404 / H, "Day of flower onset (from NEON)", rotation=90, ha='center', va='center',
         fontsize=TITLE_SIZE)
fig.text(1016 / W, 1 - 1681 / H, "Day of 50% green-up (from PlanetScope)", ha='center', va='center',
         fontsize=TITLE_SIZE)
fig.text(40 / W, 1 - 47 / H, "A", ha='center', va='center', fontsize=21)
fig.text(40 / W, 1 - 1115 / H, "B", ha='center', va='center', fontsize=21)

fig.savefig("out.png", dpi=100)
